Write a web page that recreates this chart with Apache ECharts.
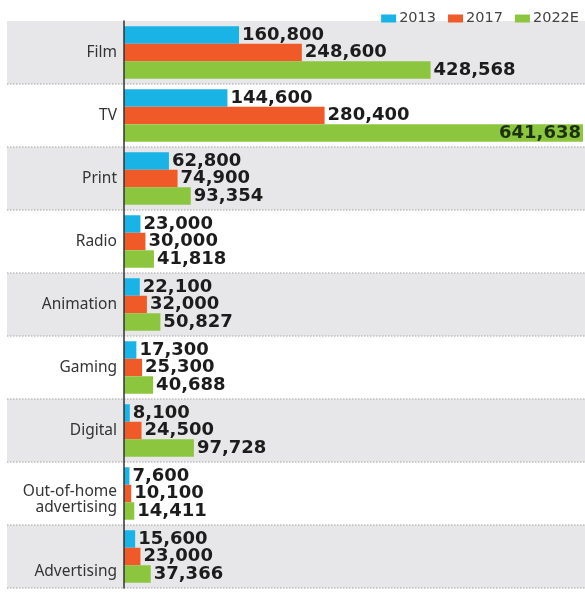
<!DOCTYPE html>
<html>
<head>
<meta charset="utf-8">
<script src="https://cdn.jsdelivr.net/npm/echarts@6/dist/echarts.min.js"></script>
<style>
  html, body { margin: 0; padding: 0; background: #fff; }
  #chart { width: 585px; height: 592px; }
</style>
</head>
<body>
<div id="chart"></div>
<script>
// categories, top to bottom
var categories = ['Film', 'TV', 'Print', 'Radio', 'Animation', 'Gaming', 'Digital', 'Out-of-home\nadvertising', 'Advertising'];
var years = ['2013', '2017', '2022E'];
var v2013 = [160800, 144600, 62800, 23000, 22100, 17300, 8100, 7600, 15600];
var v2017 = [248600, 280400, 74900, 30000, 32000, 25300, 24500, 10100, 23000];
var v2022 = [428568, 641638, 93354, 41818, 50827, 40688, 97728, 14411, 37366];
var colors = ['#1ab3e6', '#f05a28', '#8cc63f'];

var maxVal = Math.max.apply(null, v2022);

function fmt(v) {
  return v.toString().replace(/\B(?=(\d{3})+(?!\d))/g, ',');
}

function makeSeries(name, values, color) {
  return {
    name: name,
    type: 'bar',
    xAxisIndex: 0,
    yAxisIndex: 0,
    barWidth: 17.5,
    barGap: '0%',
    itemStyle: { color: color },
    label: {
      show: true,
      position: 'right',
      distance: 3,
      color: '#1c1c1c',
      fontFamily: 'DejaVu Sans',
      fontWeight: 'bold',
      fontSize: 18,
      formatter: function (p) { return fmt(p.value); }
    },
    data: values.map(function (v) {
      // the biggest bar has no room on its right, so its label goes inside
      if (v === maxVal) {
        return { value: v, label: { position: 'insideRight', distance: 2, color: '#1d3112' } };
      }
      return v;
    })
  };
}

var chart = echarts.init(document.getElementById('chart'));
chart.setOption({
  animation: false,
  backgroundColor: '#fff',
  legend: {
    top: 6,
    right: 1,
    icon: 'rect',
    itemWidth: 15,
    itemHeight: 8,
    itemGap: 12,
    textStyle: { fontFamily: 'DejaVu Sans', fontSize: 14.5, color: '#444', padding: [0, 0, 0, -2] },
    data: years
  },
  grid: [
    { left: 124, right: 2, top: 21, bottom: 4 },
    { left: 7, right: 0, top: 21, bottom: 4 }
  ],
  xAxis: [
    { type: 'value', gridIndex: 0, min: 0, max: maxVal, show: false },
    { type: 'value', gridIndex: 1, min: 0, max: 1, show: false }
  ],
  yAxis: [
    {
      type: 'category',
      gridIndex: 0,
      inverse: true,
      data: categories,
      axisLine: { show: true, lineStyle: { color: '#333', width: 1.5 } },
      axisTick: { show: false },
      splitLine: { show: false },
      axisLabel: {
        margin: 7,
        fontFamily: 'Noto Sans',
        fontSize: 15.5,
        color: '#333',
        align: 'right',
        lineHeight: 16,
        // the last two labels sit a bit low in their rows in the original
        formatter: function (value) {
          if (value === 'Advertising') return '{low|' + value + '}';
          if (value.indexOf('\n') > -1) {
            var parts = value.split('\n');
            return '{gap| }\n{n|' + parts[0] + '}\n{n|' + parts[1] + '}';
          }
          return value;
        },
        rich: {
          low: { fontFamily: 'Noto Sans', fontSize: 15.5, color: '#333', lineHeight: 16, padding: [30, 0, 0, 0] },
          gap: { fontSize: 4, lineHeight: 13 },
          n: { fontFamily: 'Noto Sans', fontSize: 15.5, color: '#333', lineHeight: 16 }
        }
      },
      z: 5
    },
    {
      type: 'category',
      gridIndex: 1,
      inverse: true,
      data: categories,
      axisLine: { show: false },
      axisTick: { show: false },
      axisLabel: { show: false },
      splitArea: { show: true, areaStyle: { color: ['#e7e7e9', '#ffffff'] } },
      splitLine: {
        show: true,
        interval: function (index) { return index > 0; },
        lineStyle: { color: '#bdbdbd', type: 'dotted', width: 1.5 }
      },
      z: 0
    }
  ],
  series: [
    makeSeries(years[0], v2013, colors[0]),
    makeSeries(years[1], v2017, colors[1]),
    makeSeries(years[2], v2022, colors[2])
  ]
});
</script>
</body>
</html>
